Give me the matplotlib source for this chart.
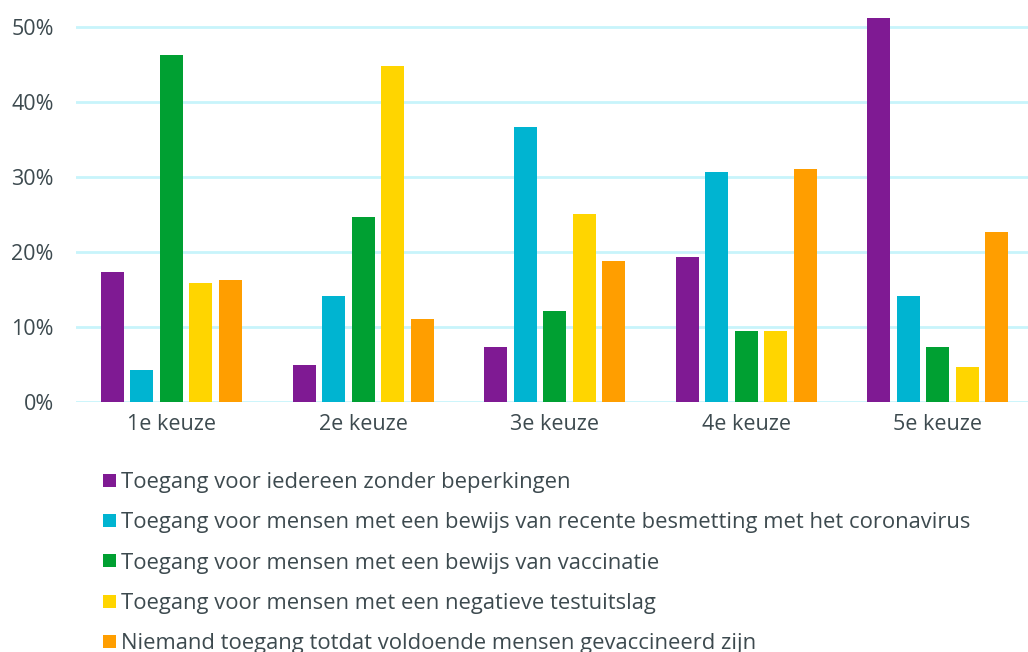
import numpy as np
import matplotlib.pyplot as plt
from matplotlib.patches import Patch

plt.rcParams['font.family'] = ['Open Sans', 'DejaVu Sans']

categories = ["1e keuze", "2e keuze", "3e keuze", "4e keuze", "5e keuze"]
series_names = [
    "Toegang voor iedereen zonder beperkingen",
    "Toegang voor mensen met een bewijs van recente besmetting met het coronavirus",
    "Toegang voor mensen met een bewijs van vaccinatie",
    "Toegang voor mensen met een negatieve testuitslag",
    "Niemand toegang totdat voldoende mensen gevaccineerd zijn",
]
iedereen = [17.3, 4.9, 7.3, 19.3, 51.2]
besmetting = [4.2, 14.1, 36.7, 30.6, 14.1]
vaccinatie = [46.2, 24.7, 12.1, 9.5, 7.3]
testuitslag = [15.9, 44.8, 25.0, 9.5, 4.6]
niemand = [16.3, 11.1, 18.8, 31.0, 22.6]
values = [iedereen, besmetting, vaccinatie, testuitslag, niemand]
colors = ["#7f1a93", "#00b4d1", "#00a032", "#ffd500", "#ff9e00"]

text_col = "#3d4a4f"
grid_col = "#c8f4fb"

fig = plt.figure(figsize=(10.28, 6.52), dpi=100)
ax = fig.add_axes([0.0739, 0.3839, 0.9261, 0.6161])

x = np.arange(len(categories))
step = 0.154
width = 0.12
for i, (vals, col) in enumerate(zip(values, colors)):
    ax.bar(x + (i - 2) * step, vals, width=width, color=col, zorder=3)

ax.set_xlim(-0.498, 4.47)
ax.set_ylim(0, 53.6)
ax.set_yticks(range(0, 51, 10))
ax.set_yticklabels([f"{v}%" for v in range(0, 51, 10)])
ax.set_xticks(x)
ax.set_xticklabels(categories)
ax.tick_params(length=0, labelsize=15.5, colors=text_col)
ax.tick_params(axis='x', pad=9)
ax.tick_params(axis='y', pad=16)
ax.grid(axis='y', color=grid_col, linewidth=2, zorder=0)
for s in ax.spines.values():
    s.set_visible(False)

handles = [Patch(facecolor=c, label=n) for c, n in zip(colors, series_names)]
fig.legend(handles=handles, loc='upper left', bbox_to_anchor=(0.1002, 0.276),
           frameon=False, fontsize=15.8, labelcolor=text_col, borderpad=0,
           borderaxespad=0, handlelength=0.57, handleheight=0.53,
           handletextpad=0.25, labelspacing=0.88)

fig.savefig("out.png", dpi=100)
